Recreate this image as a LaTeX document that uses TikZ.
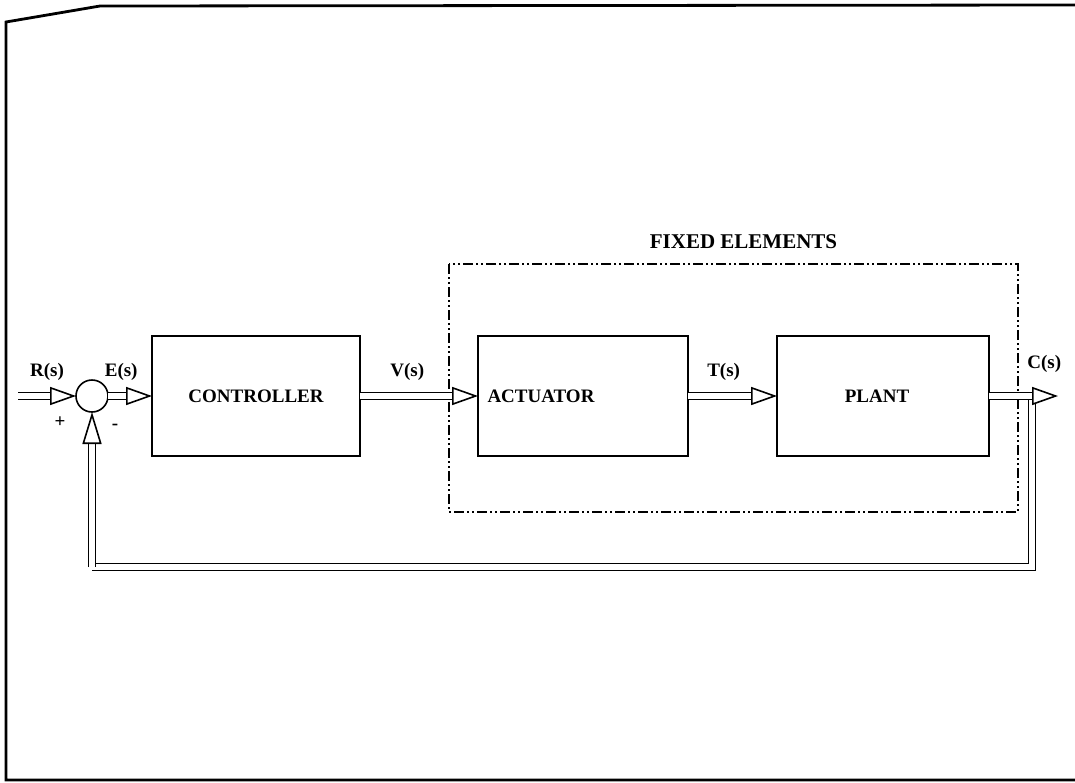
\documentclass[tikz,border=0pt]{standalone}
\usepackage{amsmath,amssymb}
\usepackage{fontspec}
\newfontfamily\labelfont{Liberation Serif}
\usetikzlibrary{positioning, arrows.meta, calc}

\tikzset{
    blockbox/.style={draw, line width=0.9pt, outer sep=0pt, minimum height=60pt,
        font=\labelfont\bfseries\fontsize{9.5}{11}\selectfont},
    sumnode/.style={draw, circle, line width=0.8pt, outer sep=0pt, minimum size=16pt, inner sep=0pt},
    sigline/.style={draw, double, double distance=2.8pt, line width=0.8pt},
    sig/.style={sigline,
        -{Triangle[fill=white, line width=0.8pt, length=13pt, width=9pt]}},
    siglabel/.style={font=\labelfont\bfseries\fontsize{9.5}{11}\selectfont},
    fixedline/.style={line width=0.8pt,
        dash pattern=on 5pt off 1.5pt on 1pt off 1.5pt on 1pt off 1.5pt},
}

\begin{document}
\begin{tikzpicture}[x=0.5pt, y=-0.5pt]
    \useasboundingbox (0,0) rectangle (1075,782);

    % page frame
    \draw[line width=1.4pt] (1075,5) -- (100,6) -- (6,22) -- (6,780) -- (1075,780);

    % blocks
    \node[sumnode]                                    (sum)   at (92,396) {};
    \node[blockbox, minimum width=104pt, right=22pt of sum]   (ctrl)  {CONTROLLER};
    \node[blockbox, minimum width=105pt, right=59pt of ctrl,
          label={[siglabel, xshift=-21pt]center:ACTUATOR}] (act) {};
    \node[blockbox, minimum width=106pt, right=44.5pt of act,
          label={[siglabel, xshift=-3pt]center:PLANT}]     (plant) {};

    \coordinate (rin)  at ($(sum.west)+(-58,0)$);
    \coordinate (cout) at ($(plant.east)+(69,0)$);
    \coordinate (tap)  at ($(plant.east)+(43,0)$);
    \coordinate (fb)   at ($(sum.south)+(0,155)$);

    % fixed elements
    \coordinate (fixnw) at ($(act.north west)+(-29,-72)$);
    \coordinate (fixse) at ($(plant.south east)+(29,56)$);
    \draw[fixedline] (fixnw) rectangle (fixse);
    \node[siglabel, font=\labelfont\bfseries\fontsize{10.5}{12}\selectfont, above=4pt]
        (fixlbl) at ($(fixnw)!0.5!(fixse |- fixnw)+(10,0)$) {FIXED ELEMENTS};

    % signals
    \draw[sigline] (tap) |- (fb);
    \draw[sig, -{Triangle[fill=white, line width=0.8pt, length=16pt, width=9.5pt]}] (fb) -- (sum.south);
    \draw[sig] (rin) -- node[siglabel, above=4pt] {R(s)} (sum.west);
    \draw[sig] (sum.east) -- node[siglabel, above=4pt, pos=0.3] {E(s)} (ctrl.west);
    \draw[sig] (ctrl.east) -- node[siglabel, above=4pt, pos=0.4] {V(s)} (act.west);
    \draw[sig] (act.east) -- node[siglabel, above=4pt, pos=0.4] {T(s)} (plant.west);
    \draw[sig] (plant.east) -- node[siglabel, above=8pt, pos=0.8] {C(s)} (cout);

    \node[siglabel] (plus)  at ($(sum)+(-32,26)$) {+};
    \node[siglabel] (minus) at ($(sum)+(23,31)$)  {-};
\end{tikzpicture}
\end{document}
